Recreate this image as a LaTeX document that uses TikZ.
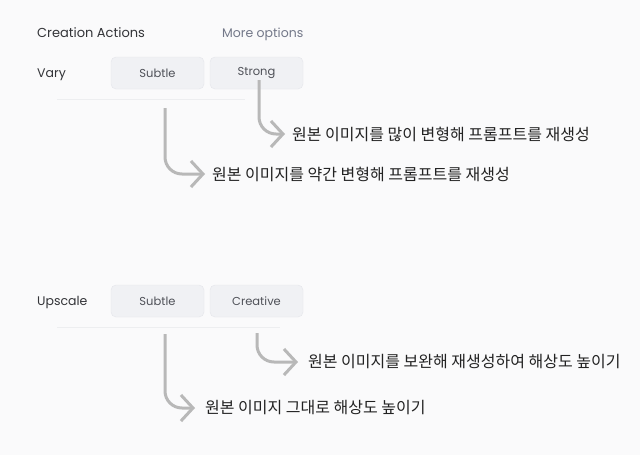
\documentclass[tikz,border=0pt]{standalone}
\usepackage{fontspec}
\setmainfont{Poppins}
\newfontfamily\krfont{Noto Sans CJK KR}
\usetikzlibrary{arrows.meta}
\definecolor{bgc}{HTML}{FAFAFB}
\definecolor{btnfill}{HTML}{F0F1F4}
\definecolor{btnline}{HTML}{E5E6EA}
\definecolor{btntext}{HTML}{4F5158}
\definecolor{moretext}{HTML}{737889}
\definecolor{labeltext}{HTML}{333438}
\definecolor{krtext}{HTML}{222222}
\definecolor{arrowc}{HTML}{B8B8B8}
\definecolor{sepc}{HTML}{EDEEF0}
\tikzset{
  titletext/.style={anchor=base west,inner sep=0pt,font=\fontsize{13}{15}\selectfont,text=labeltext},
  moreopt/.style={anchor=base west,inner sep=0pt,font=\fontsize{12.5}{15}\selectfont,text=moretext},
  rowlabel/.style={anchor=base west,inner sep=0pt,font=\fontsize{12.5}{15}\selectfont,text=labeltext},
  btnbox/.style={draw=btnline,fill=btnfill,rounded corners=5pt,minimum width=93pt,minimum height=32pt,inner sep=0pt,font=\fontsize{11.5}{14}\selectfont,text=btntext},
  kr/.style={anchor=west,inner sep=0pt,font=\krfont\fontsize{16}{19}\selectfont,text=krtext},
  arr/.style={draw=arrowc,line width=3pt,rounded corners=17pt,-{Straight Barb[length=12pt,width=26pt,line width=3pt]}},
  sepline/.style={draw=sepc,line width=0.8pt}
}
\begin{document}
\begin{tikzpicture}[x=1pt,y=-1pt]
\fill[bgc] (0,0) rectangle (640,455);
\useasboundingbox (0,0) rectangle (640,455);

\node[titletext] (ca) at (37,37) {Creation Actions};
\node[moreopt] (mo) at (222,37) {More options};

% Vary row
\node[rowlabel] (vary) at (37,77) {Vary};
\node[btnbox] (vs) at (157.5,73) {Subtle};
\node[btnbox] (vst) at (256.5,73) {Strong};
\draw[sepline] (57,99) -- (245,99);

\node[kr] (t1) at (292,134) {원본 이미지를 많이 변형해 프롬프트를 재생성};
\node[kr] (t2) at (212,174) {원본 이미지를 약간 변형해 프롬프트를 재생성};

\draw[arr] ([xshift=2.5pt,yshift=9pt]vst.south) |- ([xshift=-7pt]t1.west);
\draw[arr] ([xshift=7.5pt,yshift=-19pt]vs.south) |- ([xshift=-7pt]t2.west);

% Upscale row
\node[rowlabel] (up) at (37,305) {Upscale};
\node[btnbox] (us) at (157.5,301) {Subtle};
\node[btnbox] (uc) at (256.5,301) {Creative};
\draw[sepline] (57,327) -- (280,327);

\node[kr] (t3) at (308,362) {원본 이미지를 보완해 재생성하여 해상도 높이기};
\node[kr] (t4) at (205,408) {원본 이미지 그대로 해상도 높이기};

\draw[arr] ([xshift=0.5pt,yshift=-16pt]uc.south) |- ([xshift=-10pt]t3.west);
\draw[arr] ([xshift=7.5pt,yshift=-17pt]us.south) |- ([xshift=-10pt]t4.west);
\end{tikzpicture}
\end{document}
